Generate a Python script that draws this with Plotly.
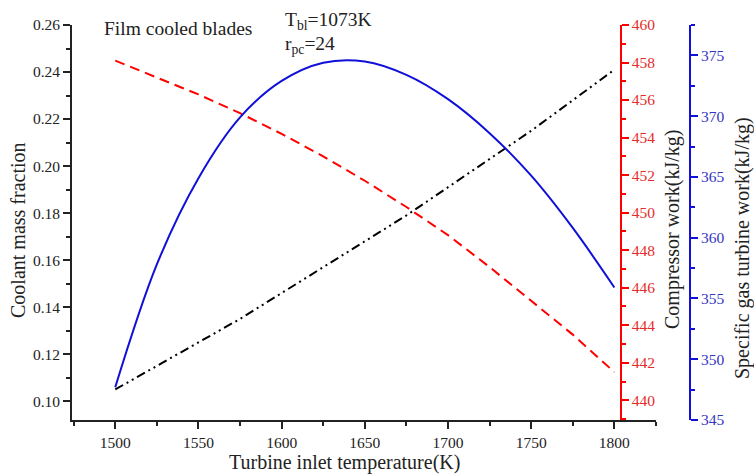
import plotly.graph_objects as go

# Turbine inlet temperature (K)
tit = [1500, 1525, 1550, 1575, 1600, 1625, 1650, 1675, 1700, 1725, 1750, 1775, 1800]

# Coolant mass fraction (left axis)
coolant = [0.105, 0.115, 0.125, 0.135, 0.146, 0.157, 0.168, 0.179, 0.191, 0.203,
           0.215, 0.228, 0.241]

# Compressor work, kJ/kg (red axis)
comp_work = [458.1, 457.2, 456.3, 455.3, 454.2, 453.0, 451.7, 450.3, 448.8, 447.1,
             445.3, 443.5, 441.5]

# Specific gas turbine work, kJ/kg (blue axis)
gt_work = [347.7, 357.8, 364.9, 369.9, 372.9, 374.4, 374.5, 373.4, 371.4, 368.6,
           365.1, 360.8, 355.9]

FONT = "Liberation Serif, Times New Roman, serif"
RED = "#ff0000"
BLUE = "#1010d8"

fig = go.Figure()

fig.add_trace(go.Scatter(
    x=tit, y=coolant, mode="lines", yaxis="y",
    line=dict(color="black", width=2, dash="9px,4px,2px,4px,2px,4px"),
))
fig.add_trace(go.Scatter(
    x=tit, y=comp_work, mode="lines", yaxis="y2",
    line=dict(color=RED, width=2, dash="10px,6px"),
))
fig.add_trace(go.Scatter(
    x=tit, y=gt_work, mode="lines", yaxis="y3",
    line=dict(color=BLUE, width=2, smoothing=1.0), line_shape="spline",
))

tickfont = dict(family=FONT, size=15.5, color="#222")

fig.update_layout(
    width=754, height=475,
    margin=dict(l=72, r=50, t=25, b=55),
    paper_bgcolor="white", plot_bgcolor="white",
    showlegend=False,
    font=dict(family=FONT, color="#222"),
    xaxis=dict(
        domain=[0, 0.924], range=[1474, 1825],
        tickvals=[1500, 1550, 1600, 1650, 1700, 1750, 1800],
        ticks="outside", ticklen=7, tickwidth=1.5, tickcolor="#222",
        minor=dict(ticks="outside", dtick=25, tick0=1500, ticklen=4, tickwidth=1.5, tickcolor="#222"),
        showline=True, linecolor="#222", linewidth=1.8,
        showgrid=False, zeroline=False, tickfont=tickfont,
    ),
    yaxis=dict(
        range=[0.092, 0.26], tick0=0.10, dtick=0.02, tickformat=".2f",
        ticks="outside", ticklen=7, tickwidth=1.5, tickcolor="#222",
        minor=dict(ticks="outside", dtick=0.01, ticklen=4, tickwidth=1.5, tickcolor="#222"),
        showline=True, linecolor="#222", linewidth=1.8,
        showgrid=False, zeroline=False, tickfont=tickfont,
    ),
    yaxis2=dict(
        overlaying="y", side="right", anchor="free", position=0.8687,
        range=[438.95, 460], tick0=440, dtick=2,
        ticks="outside", ticklen=7, tickwidth=1.5, tickcolor=RED,
        minor=dict(ticks="outside", dtick=1, ticklen=4, tickwidth=1.5, tickcolor=RED),
        showline=True, linecolor=RED, linewidth=1.5,
        showgrid=False, zeroline=False,
        tickfont=dict(family=FONT, size=15.5, color="#e52b2b"),
    ),
    yaxis3=dict(
        overlaying="y", side="right", anchor="free", position=0.978,
        domain=[0, 0.99],
        range=[345, 377.5], tick0=345, dtick=5,
        ticks="outside", ticklen=7, tickwidth=1.5, tickcolor=BLUE,
        minor=dict(ticks="outside", dtick=2.5, ticklen=4, tickwidth=1.5, tickcolor=BLUE),
        showline=True, linecolor=BLUE, linewidth=1.5,
        showgrid=False, zeroline=False,
        tickfont=dict(family=FONT, size=15.5, color="#3535c0"),
    ),
)

def px_x(px):
    return (px - 72) / 632

def px_y(py):
    return (420 - py) / 395

annots = [
    dict(text="Turbine inlet temperature(K)", x=px_x(344), y=px_y(463), textangle=0),
    dict(text="Coolant mass fraction", x=px_x(18), y=px_y(230), textangle=-90),
    dict(text="Compressor work(kJ/kg)", x=px_x(672), y=px_y(230), textangle=-90),
    dict(text="Specific gas turbine work(kJ/kg)", x=px_x(742), y=px_y(248), textangle=-90),
]
for a in annots:
    fig.add_annotation(
        text=a["text"], x=a["x"], y=a["y"], xref="paper", yref="paper",
        xanchor="center", yanchor="middle", textangle=a["textangle"],
        showarrow=False, font=dict(family=FONT, size=20, color="#222"),
    )

fig.add_annotation(
    text="Film cooled blades", x=px_x(102), y=px_y(28), xref="paper", yref="paper",
    xanchor="left", yanchor="middle", showarrow=False,
    font=dict(family=FONT, size=19.5, color="#222"),
)
fig.add_annotation(
    text="T<sub>bl</sub>=1073K", x=px_x(283), y=px_y(21), xref="paper", yref="paper",
    xanchor="left", yanchor="middle", showarrow=False,
    font=dict(family=FONT, size=19.5, color="#222"),
)
fig.add_annotation(
    text="r<sub>pc</sub>=24", x=px_x(283), y=px_y(45), xref="paper", yref="paper",
    xanchor="left", yanchor="middle", showarrow=False,
    font=dict(family=FONT, size=19.5, color="#222"),
)

fig.write_html("out.html")
